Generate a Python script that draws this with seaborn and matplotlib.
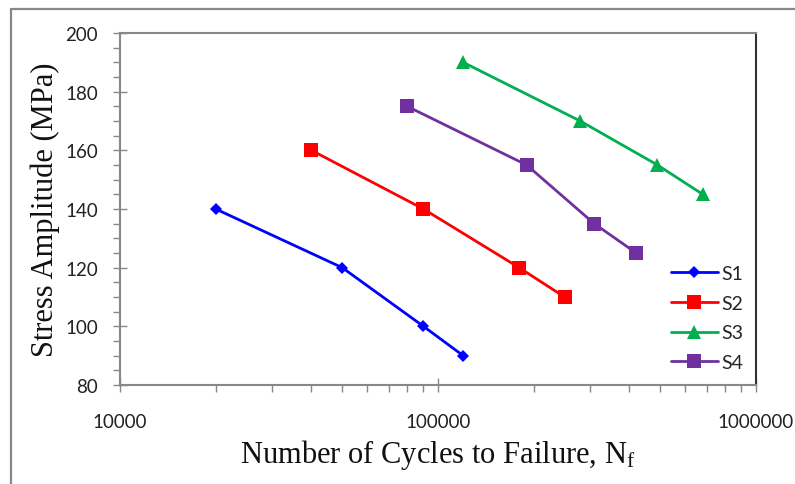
import matplotlib
matplotlib.use("Agg")
import matplotlib.pyplot as plt
import seaborn as sns
import pandas as pd
from matplotlib.ticker import LogLocator, FixedLocator, MultipleLocator, NullFormatter
from matplotlib.lines import Line2D

# ---- data ----
series_names = ["S1", "S2", "S3", "S4"]
s1_cycles = [20000, 50000, 90000, 120000]
s1_stress = [140, 120, 100, 90]
s2_cycles = [40000, 90000, 180000, 250000]
s2_stress = [160, 140, 120, 110]
s3_cycles = [120000, 280000, 490000, 680000]
s3_stress = [190, 170, 155, 145]
s4_cycles = [80000, 190000, 310000, 420000]
s4_stress = [175, 155, 135, 125]
x_tick_values = [10000, 100000, 1000000]
x_tick_labels = ["10000", "100000", "1000000"]
y_tick_values = [80, 100, 120, 140, 160, 180, 200]

colors = {"S1": "#0000FF", "S2": "#FF0000", "S3": "#00B050", "S4": "#7030A0"}
markers = {"S1": "D", "S2": "s", "S3": "^", "S4": "s"}
msizes = {"S1": 6.5, "S2": 9.5, "S3": 10.5, "S4": 9.5}

rows = []
for name, xs, ys in zip(series_names,
                        [s1_cycles, s2_cycles, s3_cycles, s4_cycles],
                        [s1_stress, s2_stress, s3_stress, s4_stress]):
    for x, y in zip(xs, ys):
        rows.append({"series": name, "cycles": x, "stress": y})
df = pd.DataFrame(rows)

sns.set_theme(style="white")
plt.rcParams["mathtext.fontset"] = "custom"
plt.rcParams["mathtext.rm"] = "Liberation Serif"
plt.rcParams["mathtext.it"] = "Liberation Serif:italic"

fig = plt.figure(figsize=(7.95, 4.85), dpi=100)
ax = fig.add_axes([120 / 795, 1 - 386 / 485, (756 - 120) / 795, (386 - 34) / 485])

for name in series_names:
    sub = df[df["series"] == name]
    sns.lineplot(data=sub, x="cycles", y="stress", ax=ax, color=colors[name],
                 marker=markers[name], markersize=msizes[name], linewidth=2.0,
                 markeredgewidth=0, estimator=None, sort=False, label=name)

ax.set_xscale("log")
ax.set_xlim(10000, 1000000)
ax.set_ylim(80, 200)

ax.xaxis.set_major_locator(FixedLocator(x_tick_values))
ax.set_xticks(x_tick_values)
ax.set_xticklabels(x_tick_labels)
ax.xaxis.set_minor_locator(LogLocator(base=10, subs=range(2, 10)))
ax.xaxis.set_minor_formatter(NullFormatter())
ax.set_yticks(y_tick_values)
ax.yaxis.set_minor_locator(MultipleLocator(5))

tick_font = "Lato"
for lab in ax.get_xticklabels() + ax.get_yticklabels():
    lab.set_fontfamily(tick_font)
    lab.set_fontsize(13.5)
    lab.set_color("#222222")

ax.tick_params(axis="both", which="major", direction="inout", length=10, width=1,
               color="#888888", bottom=True, left=True)
ax.tick_params(axis="both", which="minor", direction="out", length=5, width=1,
               color="#888888", bottom=True, left=True)
ax.tick_params(axis="y", which="major", pad=11)
ax.tick_params(axis="x", which="major", pad=15)

for side in ["top", "left", "bottom"]:
    ax.spines[side].set_color("#888888")
    ax.spines[side].set_linewidth(1.5)
ax.spines["right"].set_color("#333333")
ax.spines["right"].set_linewidth(1.5)

ax.set_xlabel(r"Number of Cycles to Failure, N$_\mathrm{f}$", fontfamily="Liberation Serif",
              fontsize=22, color="#111111")
ax.set_ylabel("Stress Amplitude (MPa)", fontfamily="Liberation Serif",
              fontsize=22, color="#111111")
ax.xaxis.label.set_va("center")
ax.yaxis.label.set_va("center")
ax.xaxis.set_label_coords(0.5, -(455 - 386) / 352)
ax.yaxis.set_label_coords((45 - 120) / 636, 0.5)

handles = [Line2D([], [], color=colors[n], marker=markers[n], markersize=msizes[n],
                  linewidth=2.0, markeredgewidth=0) for n in series_names]
leg = ax.legend(handles, series_names, loc="center left",
                bbox_to_anchor=(671 / 795, 1 - 319 / 485), bbox_transform=fig.transFigure,
                frameon=False, handlelength=2.4, handletextpad=0.2, labelspacing=0.65,
                borderpad=0, borderaxespad=0, prop={"family": tick_font, "size": 14})

# outer chart frame (left and top visible)
fig.add_artist(Line2D([11 / 795, 11 / 795], [0, 1 - 10 / 485], transform=fig.transFigure,
                      color="#888888", linewidth=1.6))
fig.add_artist(Line2D([11 / 795, 1], [1 - 10 / 485, 1 - 10 / 485], transform=fig.transFigure,
                      color="#888888", linewidth=1.6))

fig.savefig("out.png", dpi=100)
